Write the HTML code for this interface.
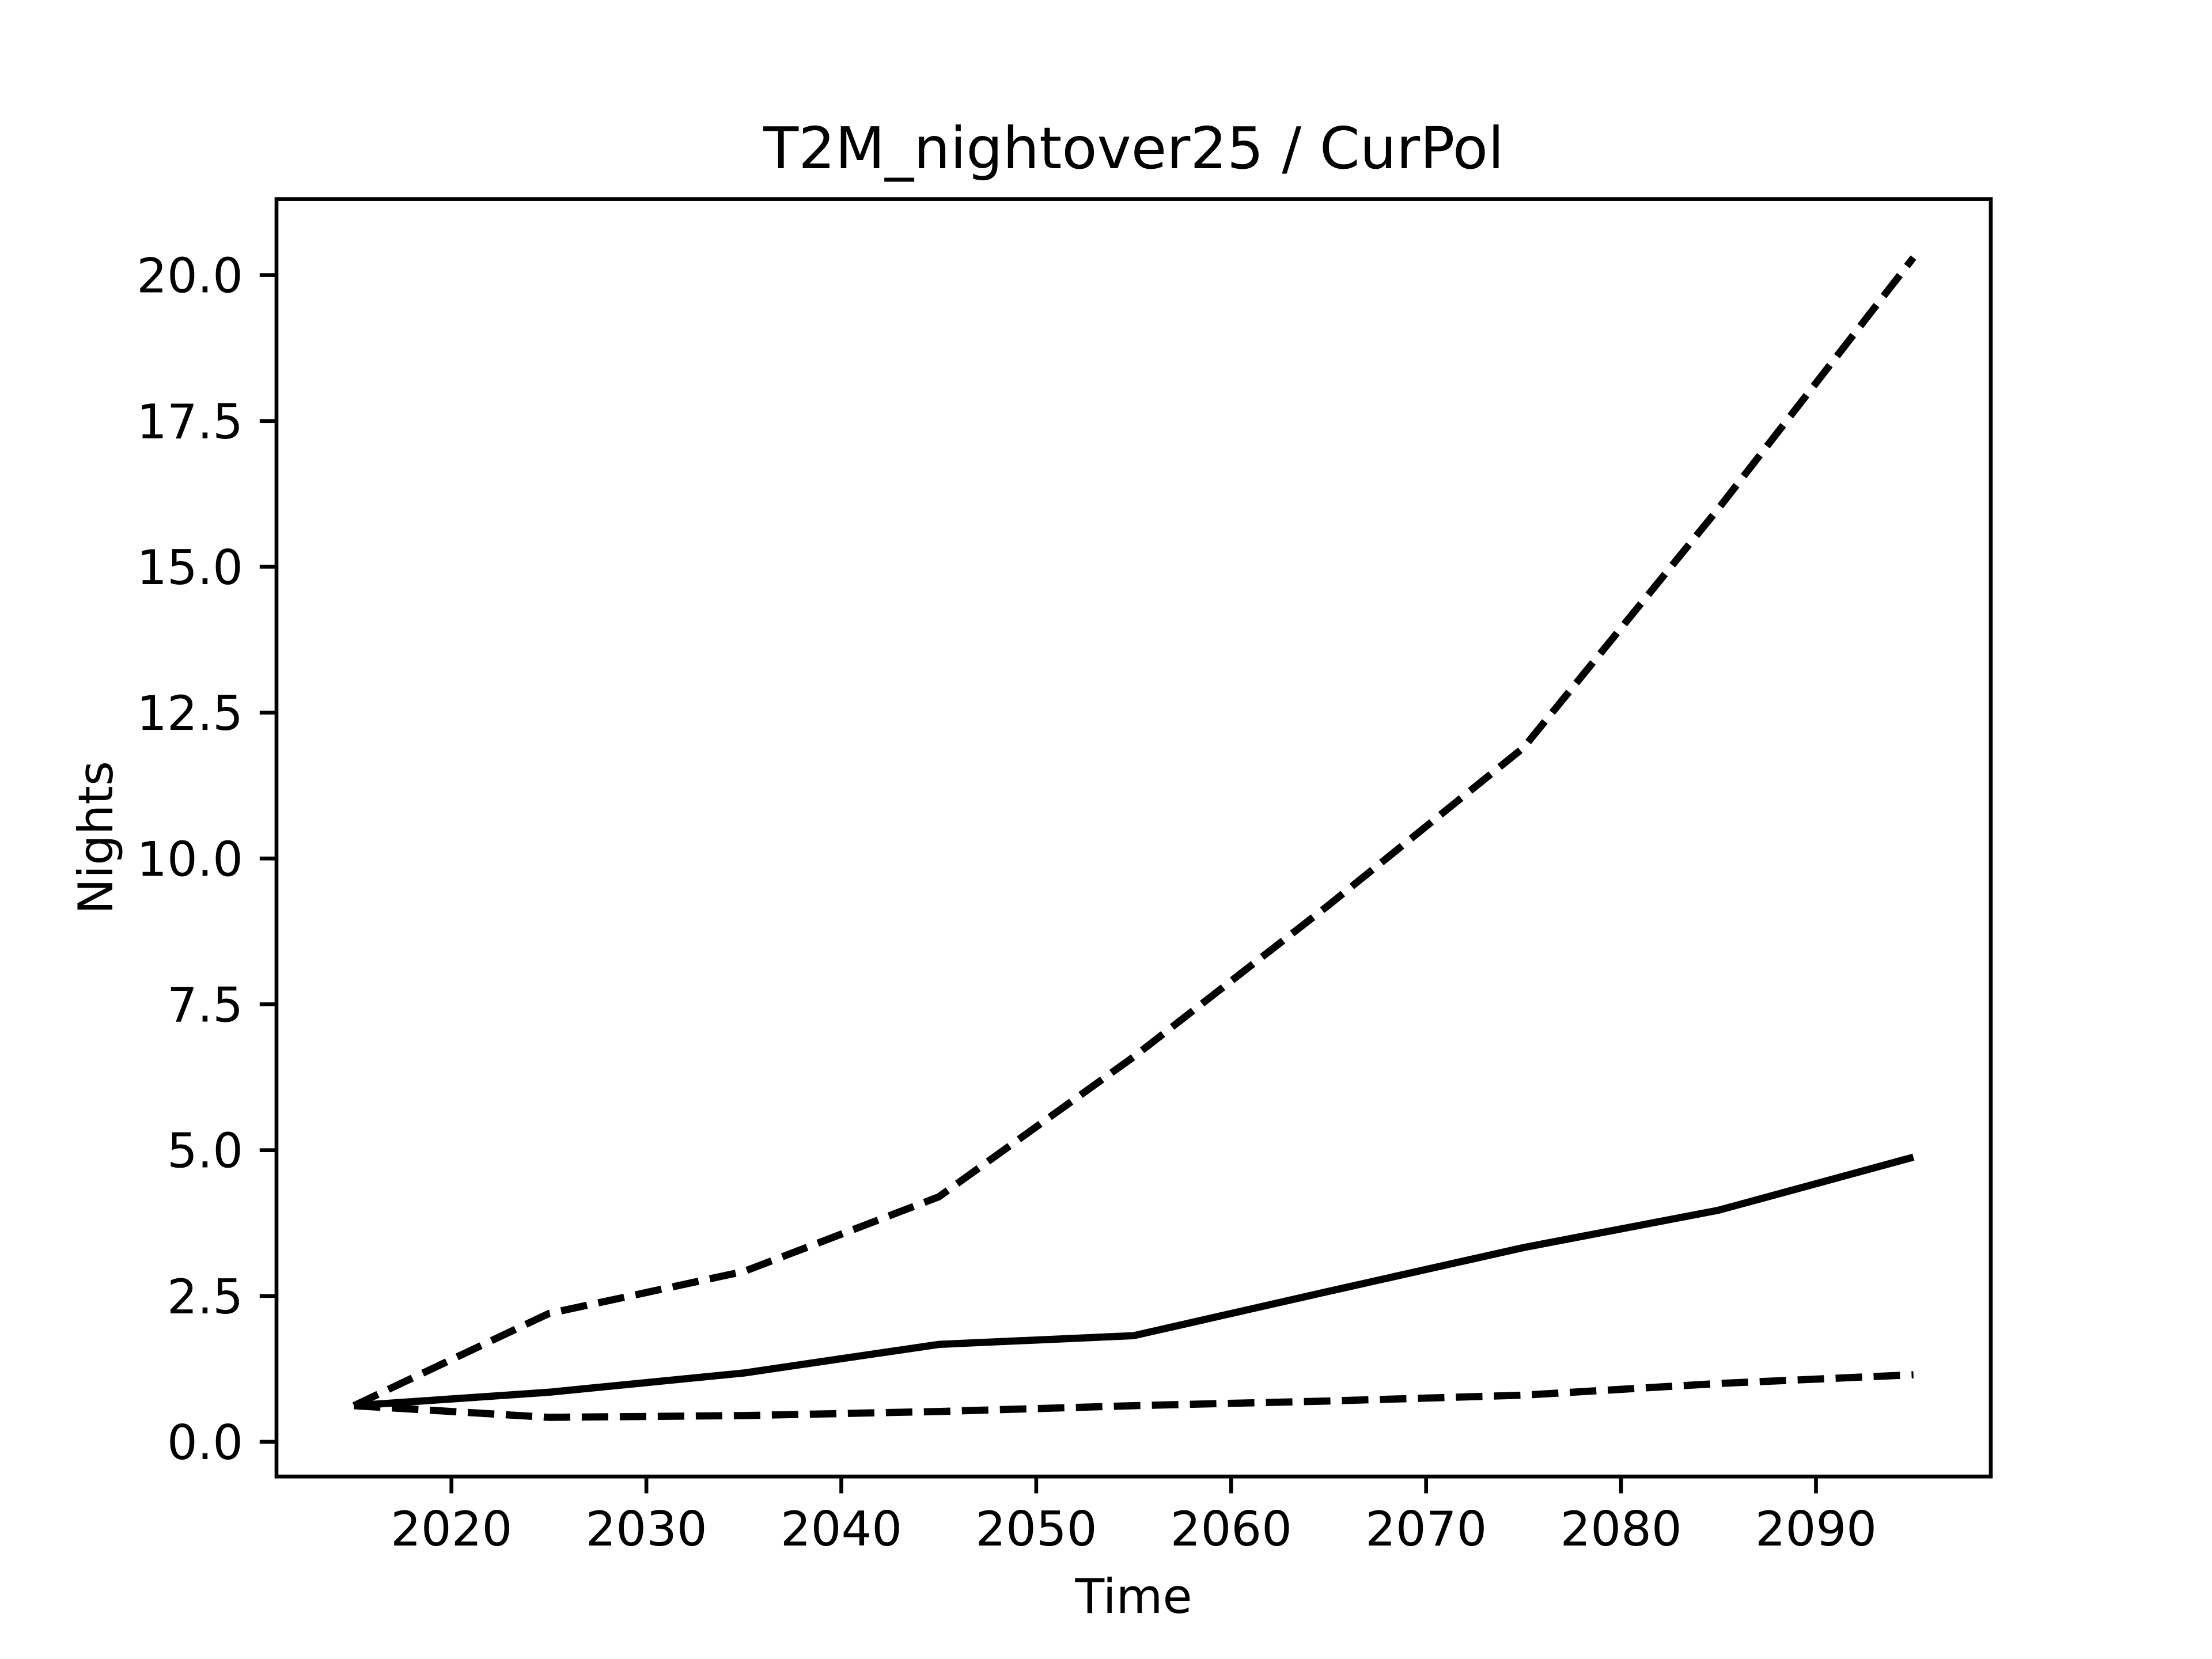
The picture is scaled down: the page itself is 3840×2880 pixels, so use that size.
<!DOCTYPE html>
<html><head><meta charset="utf-8"><style>
html,body{margin:0;padding:0;background:#fff;}
svg{display:block;font-family:"DejaVu Sans","Liberation Sans",sans-serif;}
</style></head><body>
<svg id="chart" width="3840" height="2880" viewBox="0 0 3840 2880" xmlns="http://www.w3.org/2000/svg">
<rect x="0" y="0" width="3840" height="2880" fill="#fff"/>
<text x="1968" y="292" font-size="100" text-anchor="middle">T2M_nightover25 / CurPol</text>
<g id="plot"></g>
<rect x="480" y="345.6" width="2976" height="2217.6" fill="none" stroke="#000" stroke-width="6.67"/>
<text x="1968" y="2800" font-size="83" text-anchor="middle">Time</text>
<text x="0" y="0" font-size="83" text-anchor="middle" transform="translate(195,1454) rotate(-90)">Nights</text>
</svg>
<script>
const years = [2015, 2025, 2035, 2045, 2055, 2065, 2075, 2085, 2095];
const meanSeries = [0.62, 0.85, 1.18, 1.67, 1.82, 2.58, 3.33, 3.97, 4.88];
const upperSeries = [0.62, 2.2, 2.92, 4.2, 6.6, 9.2, 11.9, 16.0, 20.3];
const lowerSeries = [0.62, 0.42, 0.45, 0.52, 0.62, 0.7, 0.8, 1.0, 1.15];
const xTicks = [2020, 2030, 2040, 2050, 2060, 2070, 2080, 2090];
const yTicks = [0, 2.5, 5, 7.5, 10, 12.5, 15, 17.5, 20];
const yTickLabels = ["0.0", "2.5", "5.0", "7.5", "10.0", "12.5", "15.0", "17.5", "20.0"];

const NS = "http://www.w3.org/2000/svg";
const svg = document.getElementById('chart');
const plot = document.getElementById('plot');
function xs(v){ return 783.7 + (v - 2020) * 33.84; }
function ys(v){ return 2503 - v * 101.27; }

function mk(tag, attrs, parent){
  const e = document.createElementNS(NS, tag);
  for (const k in attrs) e.setAttribute(k, attrs[k]);
  parent.appendChild(e);
  return e;
}

xTicks.forEach(function(t){
  const tk = mk('line', {x1: xs(t), x2: xs(t), y1: 2563.2, y2: 2592.4, stroke: '#000', 'stroke-width': 6.67}, svg);
  
  
  const lb = mk('text', {x: xs(t), y: 2683, 'font-size': 83, 'text-anchor': 'middle'}, svg);
  lb.textContent = String(t);
  
  
});
yTicks.forEach(function(t, i){
  const tk = mk('line', {x1: 450.8, x2: 480, y1: ys(t), y2: ys(t), stroke: '#000', 'stroke-width': 6.67}, svg);
  
  
  const lb = mk('text', {x: 422, y: ys(t) + 30, 'font-size': 83, 'text-anchor': 'end'}, svg);
  lb.textContent = yTickLabels[i];
  
  
});

function drawLine(vals, dashed){
  const pts = years.map(function(y, i){ return xs(y) + ',' + ys(vals[i]); }).join(' ');
  const attrs = {points: pts, fill: 'none', stroke: '#000', 'stroke-width': 12.5};
  if (dashed) attrs['stroke-dasharray'] = '46 20';
  return mk('polyline', attrs, plot);
}
const l1 = drawLine(upperSeries, true);


const l2 = drawLine(meanSeries, false);


const l3 = drawLine(lowerSeries, true);


</script>
</body></html>
